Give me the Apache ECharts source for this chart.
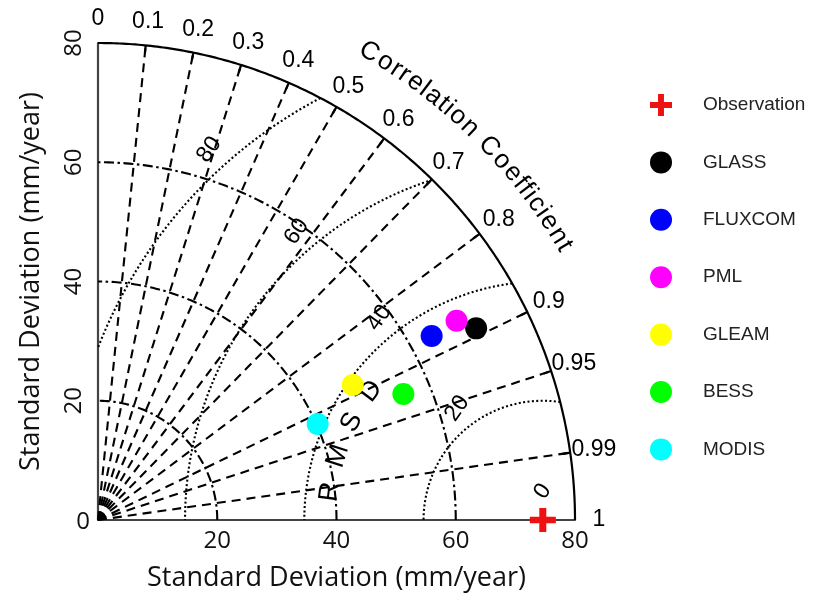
<!DOCTYPE html>
<html><head><meta charset="utf-8">
<script src="https://cdn.jsdelivr.net/npm/echarts@6/dist/echarts.min.js"></script>
<style>html,body{margin:0;padding:0;background:#fff}#c{width:814px;height:594px}</style>
</head><body><div id="c"></div>
<script>
// ---- data ----
const modelNames = ['GLASS', 'FLUXCOM', 'PML', 'GLEAM', 'BESS', 'MODIS'];
const modelColors = ['#000000', '#0000ff', '#ff00ff', '#ffff00', '#00ff00', '#00ffff'];
const modelStd = [71.1, 63.9, 68.8, 48.35, 55.4, 40.2];
const modelCorr = [0.892, 0.8757, 0.8741, 0.8836, 0.9244, 0.9164];
const obsName = 'Observation';
const obsStd = 74.6;
const stdAxisTicks = [0, 20, 40, 60, 80];
const stdArcs = [20, 40, 60];
const stdMax = 80;
const corrLines = [0.1, 0.2, 0.3, 0.4, 0.5, 0.6, 0.7, 0.8, 0.9, 0.95, 0.99];
const corrLabels = ['0', '0.1', '0.2', '0.3', '0.4', '0.5', '0.6', '0.7', '0.8', '0.9', '0.95', '0.99', '1'];
const rmsdCircles = [20, 40, 60, 80];
const rmsdLabels = ['0', '20', '40', '60', '80'];
const xName = 'Standard Deviation (mm/year)';
const yName = 'Standard Deviation (mm/year)';
const corrTitle = 'Correlation Coefficient';
const rmsdTitle = ['R', 'M', 'S', 'D'];

// ---- helpers ----
const D = Math.PI / 180;
const polar = (r, deg) => [r * Math.cos(deg * D), r * Math.sin(deg * D)];
function arc(cx, cy, r, a0, a1, n) {
  const pts = [];
  for (let i = 0; i <= n; i++) {
    const a = a0 + (a1 - a0) * i / n;
    pts.push([cx + r * Math.cos(a * D), cy + r * Math.sin(a * D)]);
  }
  return pts;
}
const base = { type: 'line', symbol: 'none', silent: true, clip: false, animation: false, z: 2 };
const series = [];

// outer arc
series.push(Object.assign({}, base, { data: arc(0, 0, stdMax, 0, 90, 240), lineStyle: { color: '#000', width: 2.2, type: 'solid' }, z: 4 }));
// std arcs (dash-dot)
stdArcs.forEach(r => series.push(Object.assign({}, base, {
  data: arc(0, 0, r, 0, 90, 160), lineStyle: { color: '#000', width: 2.1, type: [10, 3.5, 2.5, 3.5] }
})));
// correlation lines
corrLines.forEach(c => {
  const a = Math.acos(c) / D;
  series.push(Object.assign({}, base, { data: [[0, 0], polar(stdMax, a)], lineStyle: { color: '#000', width: 2.1, type: [9, 6] } }));
  series.push(Object.assign({}, base, { data: [polar(stdMax - 1.3, a), polar(stdMax, a)], lineStyle: { color: '#000', width: 2.2, type: 'solid' } }));
});
// RMSD circles (dotted), clipped to the quarter disk
rmsdCircles.forEach(R => {
  const cOut = (stdMax * stdMax - obsStd * obsStd - R * R) / (2 * obsStd * R);
  const p1 = cOut >= 1 ? 0 : (cOut <= -1 ? 180 : Math.acos(cOut) / D);
  const p2 = obsStd - R >= 0 ? 180 : Math.acos(-obsStd / R) / D;
  series.push(Object.assign({}, base, { data: arc(obsStd, 0, R, p1, p2, 200), lineStyle: { color: '#000', width: 2.1, type: [2, 2.4] } }));
});

// label carriers
const labelBase = { type: 'scatter', symbolSize: 1, itemStyle: { color: 'rgba(0,0,0,0)', opacity: 1 }, silent: true, clip: false, animation: false, z: 6 };
series.push(Object.assign({}, labelBase, {
  data: corrLabels.map(t => ({ value: polar(84, Math.acos(parseFloat(t)) / D), name: t })),
  label: { show: true, position: 'inside', formatter: '{b}', fontSize: 23, fontFamily: 'Liberation Sans', color: '#000', opacity: 1 }
}));
series.push(Object.assign({}, labelBase, {
  data: rmsdLabels.map(t => {
    const R = parseFloat(t);
    const a = R === 0 ? 90 : 126 + R * 0.075;
    const d = R === 0 ? 4.8 : R + 3.6;
    const p = polar(d, a);
    return { value: [obsStd + p[0], p[1]], name: t };
  }),
  label: { show: true, position: 'inside', formatter: '{b}', fontSize: 23, fontFamily: 'Liberation Sans', color: '#000', rotate: 55, opacity: 1 }
}));
series.push(Object.assign({}, labelBase, {
  data: rmsdTitle.map((t, i) => {
    const a = 172.5 - i * 9.8;
    const p = polar(36, a);
    return { value: [obsStd + p[0], p[1]], name: t, label: { rotate: a - 90 } };
  }),
  label: { show: true, position: 'inside', formatter: '{b}', fontSize: 27, fontFamily: 'Liberation Sans', color: '#000', opacity: 1 }
}));

// models
modelNames.forEach((n, i) => {
  const a = Math.acos(modelCorr[i]) / D;
  series.push({ type: 'scatter', name: n, data: [polar(modelStd[i], a)], symbol: 'circle', symbolSize: 22,
    itemStyle: { color: modelColors[i], opacity: 1 }, z: 8, animation: false, clip: false });
});
const crossPath = 'path://M9.5,0h7v9.5h9.5v7h-9.5v9.5h-7v-9.5h-9.5v-7h9.5z';
series.push({ type: 'scatter', name: obsName, data: [[obsStd, 0]], symbol: crossPath, symbolSize: [26, 24],
  itemStyle: { color: '#ee1111', opacity: 1 }, z: 9, animation: false, clip: false });

const chart = echarts.init(document.getElementById('c'));
const axisCommon = {
  type: 'value', min: 0, max: stdMax, interval: 20,
  axisLine: { show: true, lineStyle: { color: '#444', width: 2.2 } },
  axisTick: { show: false }, splitLine: { show: false },
  nameLocation: 'middle',
  nameTextStyle: { fontSize: 27, fontFamily: 'Open Sans', color: '#111' }
};
chart.setOption({
  animation: false,
  backgroundColor: '#fff',
  grid: { left: 98, top: 43, width: 477, height: 477, containLabel: false, outerBoundsMode: 'none' },
  xAxis: Object.assign({}, axisCommon, {
    name: xName, nameGap: 45,
    axisLabel: { formatter: v => (v === 0 ? '' : String(v)), fontSize: 24, fontFamily: 'Open Sans', color: '#111', margin: 9 }
  }),
  yAxis: Object.assign({}, axisCommon, {
    name: yName, nameGap: 53,
    axisLabel: { formatter: v => (v === 0 ? '' : String(v)), rotate: 90, fontSize: 24, fontFamily: 'Open Sans', color: '#111', margin: 12 }
  }),
  legend: {
    orient: 'vertical', left: 645, top: 89, itemWidth: 74, itemHeight: 22, itemGap: 35.4,
    selectedMode: false,
    textStyle: { fontSize: 19, fontFamily: 'Liberation Sans', color: '#222' },
    data: [obsName].concat(modelNames)
  },
  series: series
});

// curved "Correlation Coefficient" title and the upright y "0"
const o = chart.convertToPixel({ gridIndex: 0 }, [0, 0]);
const rPx = chart.convertToPixel({ gridIndex: 0 }, [stdMax, 0])[0] - o[0];
const ctx = document.createElement('canvas').getContext('2d');
const titleFont = '26px "Liberation Sans"';
ctx.font = titleFont;
const chars = corrTitle.split('');
const widths = chars.map(ch => ctx.measureText(ch).width);
const centers = [];
let acc = 0;
widths.forEach(w => { centers.push(acc + w / 2); acc += w; });
const sFirst = centers[0], sLast = centers[centers.length - 1];
const aStart = 59.9, aEnd = 30.4, rTitle = rPx * 90.7 / stdMax;
const graphics = chars.map((ch, i) => {
  const a = aStart + (aEnd - aStart) * (centers[i] - sFirst) / (sLast - sFirst);
  return {
    type: 'text', x: o[0] + rTitle * Math.cos(a * D), y: o[1] - rTitle * Math.sin(a * D),
    rotation: (a - 90) * D, silent: true,
    style: { text: ch, font: titleFont, fill: '#000', align: 'center', verticalAlign: 'middle', textAlign: 'center', textVerticalAlign: 'middle' }
  };
});
graphics.push({
  type: 'text', x: o[0] - 15, y: o[1] + 2, silent: true,
  style: { text: '0', font: '24px "Open Sans"', fill: '#111', align: 'center', verticalAlign: 'middle', textAlign: 'center', textVerticalAlign: 'middle' }
});
chart.setOption({ graphic: graphics });
</script>
</body></html>
